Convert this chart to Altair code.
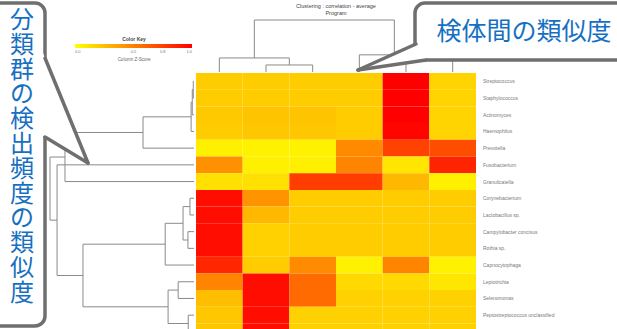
import altair as alt
import pandas as pd

# ---------------- data ----------------
samples = ["S1", "S2", "S3", "S4", "S5", "S6"]
taxa = [
    "Streptococcus", "Staphylococcus", "Actinomyces", "Haemophilus",
    "Prevotella", "Fusobacterium", "Granulicatella", "Corynebacterium",
    "Lactobacillus sp.", "Campylobacter concisus", "Rothia sp.", "Capnocytophaga",
    "Leptotrichia", "Selenomonas", "Peptostreptococcus unclassified", "Treponema",
]
values = [
    [0.20, 0.20, 0.20, 0.20, 1.00, 0.17],
    [0.20, 0.20, 0.20, 0.20, 1.00, 0.17],
    [0.21, 0.23, 0.23, 0.20, 1.00, 0.17],
    [0.20, 0.22, 0.22, 0.20, 0.98, 0.17],
    [0.06, 0.05, 0.05, 0.46, 0.74, 0.70],
    [0.43, 0.06, 0.06, 0.48, 0.10, 0.86],
    [0.12, 0.12, 0.76, 0.76, 0.28, 0.06],
    [0.95, 0.42, 0.20, 0.20, 0.20, 0.20],
    [0.95, 0.28, 0.20, 0.20, 0.20, 0.20],
    [0.95, 0.18, 0.20, 0.20, 0.20, 0.20],
    [0.95, 0.18, 0.20, 0.20, 0.20, 0.20],
    [0.85, 0.20, 0.45, 0.05, 0.48, 0.05],
    [0.48, 0.95, 0.58, 0.15, 0.15, 0.10],
    [0.25, 0.95, 0.58, 0.18, 0.18, 0.18],
    [0.22, 0.95, 0.18, 0.18, 0.18, 0.18],
    [0.22, 0.95, 0.18, 0.18, 0.18, 0.18],
]
# dendrograms: (left, right, height); leaves are indices
col_tree = ((0, (1, 2, 0.135), 0.27), (3, (4, 5, 0.23), 0.33), 1.0)
row_tree = (
    (((((0, 1, 0.005), 2, 0.012), 3, 0.02), 4, 0.354), 6, 0.896),
    (5, ((((7, 8, 0.028), (9, 10, 0.042), 0.076), 11, 0.2),
         ((12, 13, 0.11), (14, 15, 0.04), 0.18), 0.771), 0.951),
    1.0,
)
title_lines = ["Clustering : correlation - average", "Program"]
key_title = "Color Key"
key_xlab = "Column Z-Score"
left_note = "分類群の検出頻度の類似度"
top_note = "検体間の類似度"

# ---------------- layout ----------------
OX, OY = 196, 73          # plot origin inside the 617x329 page
W, H = 280, 256
ROW_RANGE = 16 * 16.7
BORDER = "#6f6f6f"
BLUE = "#1670c2"
DGRAY = "#8a8a8a"


def px(x):
    return x - OX


def py(y):
    return y - OY


heat = pd.DataFrame(
    [{"taxon": taxa[r], "sample": samples[c], "r": r, "r2": r + 1, "c": c, "c2": c + 1,
      "v": values[r][c]} for r in range(len(taxa)) for c in range(len(samples))]
)


def segments(node):
    if isinstance(node, int):
        return node + 0.5, 0.0, []
    lp, lh, ls = segments(node[0])
    rp, rh, rs = segments(node[1])
    h = node[2]
    segs = ls + rs + [
        {"p1": lp, "p2": rp, "h1": h, "h2": h},
        {"p1": lp, "p2": lp, "h1": lh, "h2": h},
        {"p1": rp, "p2": rp, "h1": rh, "h2": h},
    ]
    return (lp + rp) / 2, h, segs


col_segs = pd.DataFrame(segments(col_tree)[2])
row_segs = pd.DataFrame(segments(row_tree)[2])
labels_df = pd.DataFrame({"taxon": taxa, "pos": [i + 0.5 for i in range(len(taxa))]})

xs = alt.Scale(domain=[0, len(samples)], range=[0, W], nice=False, zero=False)
ys = alt.Scale(domain=[0, len(taxa)], range=[0, ROW_RANGE], nice=False, zero=False)

heatmap = alt.Chart(heat).mark_rect().encode(
    x=alt.X("c:Q", scale=xs, axis=None),
    x2="c2:Q",
    y=alt.Y("r:Q", scale=ys, axis=None),
    y2="r2:Q",
    color=alt.Color(
        "v:Q",
        scale=alt.Scale(domain=[0, 1], range=["#ffff00", "#ff0000"], interpolate="rgb"),
        legend=alt.Legend(
            title=key_title, orient="none", direction="horizontal",
            legendX=px(75), legendY=py(37),
            gradientLength=117, gradientThickness=4, gradientStrokeWidth=0,
            titleFontSize=5, titleFont="Liberation Sans", titleColor="#444",
            titleAnchor="middle", titlePadding=2,
            labelFontSize=4, labelColor="#777", labelFont="Liberation Sans",
            values=[0, 0.5, 0.75, 1], labelOverlap=False,
        ),
    ),
)

top_dendro = alt.Chart(col_segs).mark_rule(color=DGRAY, strokeWidth=1).encode(
    x=alt.X("p1:Q", scale=xs, axis=None),
    x2="p2:Q",
    y=alt.Y("h1:Q", scale=alt.Scale(domain=[0, 1], range=[-1, -53], nice=False, zero=False), axis=None),
    y2="h2:Q",
)

left_dendro = alt.Chart(row_segs).mark_rule(color=DGRAY, strokeWidth=1).encode(
    y=alt.Y("p1:Q", scale=ys, axis=None),
    y2="p2:Q",
    x=alt.X("h1:Q", scale=alt.Scale(domain=[0, 1], range=[-2, -146], nice=False, zero=False), axis=None),
    x2="h2:Q",
)

row_labels = alt.Chart(labels_df).mark_text(
    align="left", baseline="middle", fontSize=5, color="#7a7a7a", font="Liberation Sans"
).encode(
    y=alt.Y("pos:Q", scale=ys, axis=None),
    x=alt.value(px(483)),
    text="taxon:N",
)

one = alt.Data(values=[{"k": 1}])

title_txt = alt.Chart(one).mark_text(
    align="center", baseline="middle", fontSize=5.5, color="#444",
    font="Liberation Sans", lineBreak="\n", lineHeight=7,
).encode(x=alt.value(px(336)), y=alt.value(py(6)), text=alt.value("\n".join(title_lines)))

key_lab = alt.Chart(one).mark_text(
    align="center", baseline="middle", fontSize=4.5, color="#666", font="Liberation Sans"
).encode(x=alt.value(px(134)), y=alt.value(py(60)), text=alt.value(key_xlab))

# left callout
left_box = alt.Chart(one).mark_rect(
    cornerRadius=10, fill="white", stroke=BORDER, strokeWidth=3.5
).encode(x=alt.value(px(-14)), x2=alt.value(px(45)), y=alt.value(py(3)), y2=alt.value(py(326)))

left_ptr_fill = alt.Chart(pd.DataFrame({
    "x": [px(40), px(88)], "y": [py(45.8), py(163)], "y2": [py(134), py(163)]
})).mark_area(fill="white", orient="vertical").encode(
    x=alt.X("x:Q", scale=None, axis=None), y=alt.Y("y:Q", scale=None, axis=None), y2="y2:Q"
)

left_ptr_a = alt.Chart(one).mark_rule(color=BORDER, strokeWidth=3.5, strokeCap="round").encode(
    x=alt.value(px(45)), y=alt.value(py(58)), x2=alt.value(px(88)), y2=alt.value(py(163)))
left_ptr_b = alt.Chart(one).mark_rule(color=BORDER, strokeWidth=3.5, strokeCap="round").encode(
    x=alt.value(px(45)), y=alt.value(py(137)), x2=alt.value(px(88)), y2=alt.value(py(163)))

left_text = alt.Chart(one).mark_text(
    align="center", baseline="middle", fontSize=24, color=BLUE,
    font="Noto Sans CJK JP", lineBreak="\n", lineHeight=24.8,
).encode(x=alt.value(px(22)), y=alt.value(py(21)), text=alt.value("\n".join(left_note)))

# top-right callout
top_box = alt.Chart(one).mark_rect(
    cornerRadius=10, fill="white", stroke=BORDER, strokeWidth=3.5
).encode(x=alt.value(px(415)), x2=alt.value(px(640)), y=alt.value(py(3)), y2=alt.value(py(60)))

top_ptr_fill = alt.Chart(pd.DataFrame({
    "x": [px(358), px(426)], "y": [py(70), py(39.5)], "y2": [py(70), py(59.5)]
})).mark_area(fill="white", orient="vertical").encode(
    x=alt.X("x:Q", scale=None, axis=None), y=alt.Y("y:Q", scale=None, axis=None), y2="y2:Q"
)
top_ptr_a = alt.Chart(one).mark_rule(color=BORDER, strokeWidth=3.5, strokeCap="round").encode(
    x=alt.value(px(416)), y=alt.value(py(44)), x2=alt.value(px(358)), y2=alt.value(py(70)))
top_ptr_b = alt.Chart(one).mark_rule(color=BORDER, strokeWidth=3.5, strokeCap="round").encode(
    x=alt.value(px(426)), y=alt.value(py(60)), x2=alt.value(px(358)), y2=alt.value(py(70)))

top_text = alt.Chart(one).mark_text(
    align="center", baseline="middle", fontSize=25, color=BLUE, font="Noto Sans CJK JP"
).encode(x=alt.value(px(524)), y=alt.value(py(32)), text=alt.value(top_note))

chart = alt.layer(
    heatmap, top_dendro, left_dendro, row_labels, title_txt, key_lab,
    left_box, left_ptr_fill, left_ptr_a, left_ptr_b, left_text,
    top_box, top_ptr_fill, top_ptr_a, top_ptr_b, top_text,
).resolve_scale(
    x="independent", y="independent"
).properties(
    width=W, height=H, autosize="none",
    padding={"left": OX, "top": OY, "right": 617 - OX - W, "bottom": 329 - OY - H},
    background="white",
).configure_view(stroke=None)

chart.save("out.html", embed_options={"renderer": "svg", "actions": False})
